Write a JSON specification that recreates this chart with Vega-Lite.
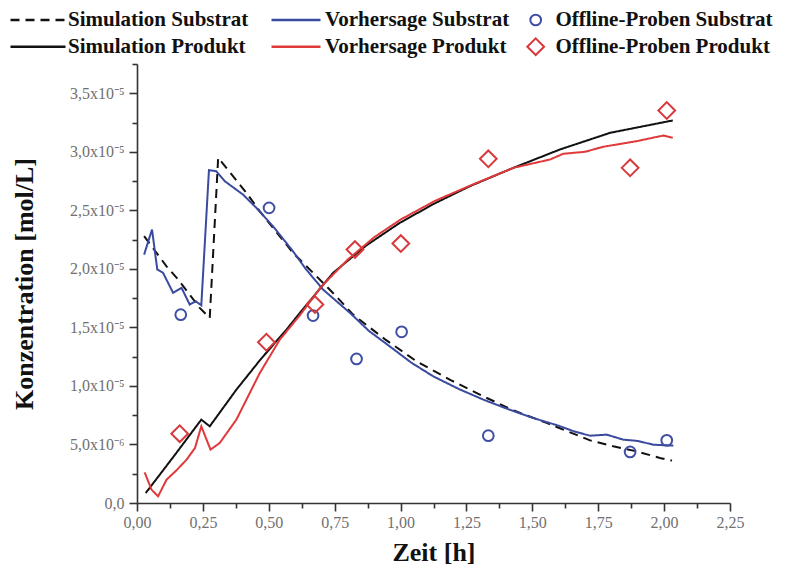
{
  "$schema": "https://vega.github.io/schema/vega-lite/v6.json",
  "width": 593,
  "height": 439,
  "autosize": {"type": "none"},
  "padding": {"left": 137, "top": 64, "right": 63, "bottom": 76},
  "background": "white",
  "config": {
    "view": {"stroke": null},
    "font": "Liberation Serif",
    "legend": {
      "labelFont": "Liberation Serif",
      "labelFontSize": 21,
      "labelFontWeight": "bold",
      "labelColor": "#111111",
      "labelLimit": 400,
      "padding": 0,
      "titlePadding": 0
    }
  },
  "data": {
    "values": [
      {"series": "Simulation Substrat", "t": 0.027, "c": 2.279e-5},
      {"series": "Simulation Substrat", "t": 0.112, "c": 2.022e-5},
      {"series": "Simulation Substrat", "t": 0.156, "c": 1.909e-5},
      {"series": "Simulation Substrat", "t": 0.200, "c": 1.780e-5},
      {"series": "Simulation Substrat", "t": 0.238, "c": 1.667e-5},
      {"series": "Simulation Substrat", "t": 0.276, "c": 1.581e-5},
      {"series": "Simulation Substrat", "t": 0.308, "c": 2.949e-5},
      {"series": "Simulation Substrat", "t": 0.339, "c": 2.863e-5},
      {"series": "Simulation Substrat", "t": 0.415, "c": 2.650e-5},
      {"series": "Simulation Substrat", "t": 0.466, "c": 2.492e-5},
      {"series": "Simulation Substrat", "t": 0.592, "c": 2.137e-5},
      {"series": "Simulation Substrat", "t": 0.668, "c": 1.966e-5},
      {"series": "Simulation Substrat", "t": 0.750, "c": 1.780e-5},
      {"series": "Simulation Substrat", "t": 0.820, "c": 1.609e-5},
      {"series": "Simulation Substrat", "t": 0.940, "c": 1.400e-5},
      {"series": "Simulation Substrat", "t": 1.061, "c": 1.210e-5},
      {"series": "Simulation Substrat", "t": 1.190, "c": 1.050e-5},
      {"series": "Simulation Substrat", "t": 1.314, "c": 0.911e-5},
      {"series": "Simulation Substrat", "t": 1.430, "c": 0.790e-5},
      {"series": "Simulation Substrat", "t": 1.554, "c": 0.684e-5},
      {"series": "Simulation Substrat", "t": 1.719, "c": 0.535e-5},
      {"series": "Simulation Substrat", "t": 1.807, "c": 0.484e-5},
      {"series": "Simulation Substrat", "t": 1.896, "c": 0.441e-5},
      {"series": "Simulation Substrat", "t": 1.984, "c": 0.385e-5},
      {"series": "Simulation Substrat", "t": 2.030, "c": 0.362e-5},

      {"series": "Vorhersage Substrat", "t": 0.027, "c": 2.122e-5},
      {"series": "Vorhersage Substrat", "t": 0.057, "c": 2.336e-5},
      {"series": "Vorhersage Substrat", "t": 0.077, "c": 1.994e-5},
      {"series": "Vorhersage Substrat", "t": 0.099, "c": 1.966e-5},
      {"series": "Vorhersage Substrat", "t": 0.137, "c": 1.795e-5},
      {"series": "Vorhersage Substrat", "t": 0.169, "c": 1.838e-5},
      {"series": "Vorhersage Substrat", "t": 0.200, "c": 1.695e-5},
      {"series": "Vorhersage Substrat", "t": 0.223, "c": 1.723e-5},
      {"series": "Vorhersage Substrat", "t": 0.244, "c": 1.689e-5},
      {"series": "Vorhersage Substrat", "t": 0.273, "c": 2.843e-5},
      {"series": "Vorhersage Substrat", "t": 0.301, "c": 2.834e-5},
      {"series": "Vorhersage Substrat", "t": 0.333, "c": 2.749e-5},
      {"series": "Vorhersage Substrat", "t": 0.402, "c": 2.635e-5},
      {"series": "Vorhersage Substrat", "t": 0.453, "c": 2.521e-5},
      {"series": "Vorhersage Substrat", "t": 0.516, "c": 2.364e-5},
      {"series": "Vorhersage Substrat", "t": 0.592, "c": 2.150e-5},
      {"series": "Vorhersage Substrat", "t": 0.640, "c": 2.000e-5},
      {"series": "Vorhersage Substrat", "t": 0.706, "c": 1.823e-5},
      {"series": "Vorhersage Substrat", "t": 0.808, "c": 1.624e-5},
      {"series": "Vorhersage Substrat", "t": 0.880, "c": 1.470e-5},
      {"series": "Vorhersage Substrat", "t": 0.959, "c": 1.338e-5},
      {"series": "Vorhersage Substrat", "t": 1.040, "c": 1.200e-5},
      {"series": "Vorhersage Substrat", "t": 1.124, "c": 1.082e-5},
      {"series": "Vorhersage Substrat", "t": 1.220, "c": 0.975e-5},
      {"series": "Vorhersage Substrat", "t": 1.314, "c": 0.883e-5},
      {"series": "Vorhersage Substrat", "t": 1.410, "c": 0.800e-5},
      {"series": "Vorhersage Substrat", "t": 1.503, "c": 0.726e-5},
      {"series": "Vorhersage Substrat", "t": 1.600, "c": 0.660e-5},
      {"series": "Vorhersage Substrat", "t": 1.660, "c": 0.610e-5},
      {"series": "Vorhersage Substrat", "t": 1.719, "c": 0.575e-5},
      {"series": "Vorhersage Substrat", "t": 1.782, "c": 0.584e-5},
      {"series": "Vorhersage Substrat", "t": 1.845, "c": 0.541e-5},
      {"series": "Vorhersage Substrat", "t": 1.900, "c": 0.530e-5},
      {"series": "Vorhersage Substrat", "t": 1.959, "c": 0.498e-5},
      {"series": "Vorhersage Substrat", "t": 2.035, "c": 0.490e-5},

      {"series": "Simulation Produkt", "t": 0.033, "c": 0.085e-5},
      {"series": "Simulation Produkt", "t": 0.140, "c": 0.400e-5},
      {"series": "Simulation Produkt", "t": 0.244, "c": 0.712e-5},
      {"series": "Simulation Produkt", "t": 0.276, "c": 0.655e-5},
      {"series": "Simulation Produkt", "t": 0.377, "c": 0.968e-5},
      {"series": "Simulation Produkt", "t": 0.470, "c": 1.230e-5},
      {"series": "Simulation Produkt", "t": 0.567, "c": 1.481e-5},
      {"series": "Simulation Produkt", "t": 0.618, "c": 1.624e-5},
      {"series": "Simulation Produkt", "t": 0.744, "c": 1.966e-5},
      {"series": "Simulation Produkt", "t": 0.870, "c": 2.200e-5},
      {"series": "Simulation Produkt", "t": 0.997, "c": 2.393e-5},
      {"series": "Simulation Produkt", "t": 1.130, "c": 2.560e-5},
      {"series": "Simulation Produkt", "t": 1.263, "c": 2.706e-5},
      {"series": "Simulation Produkt", "t": 1.428, "c": 2.863e-5},
      {"series": "Simulation Produkt", "t": 1.605, "c": 3.020e-5},
      {"series": "Simulation Produkt", "t": 1.795, "c": 3.162e-5},
      {"series": "Simulation Produkt", "t": 2.033, "c": 3.268e-5},

      {"series": "Vorhersage Produkt", "t": 0.029, "c": 0.262e-5},
      {"series": "Vorhersage Produkt", "t": 0.055, "c": 0.114e-5},
      {"series": "Vorhersage Produkt", "t": 0.080, "c": 0.057e-5},
      {"series": "Vorhersage Produkt", "t": 0.112, "c": 0.199e-5},
      {"series": "Vorhersage Produkt", "t": 0.150, "c": 0.280e-5},
      {"series": "Vorhersage Produkt", "t": 0.188, "c": 0.370e-5},
      {"series": "Vorhersage Produkt", "t": 0.220, "c": 0.470e-5},
      {"series": "Vorhersage Produkt", "t": 0.244, "c": 0.655e-5},
      {"series": "Vorhersage Produkt", "t": 0.279, "c": 0.456e-5},
      {"series": "Vorhersage Produkt", "t": 0.314, "c": 0.513e-5},
      {"series": "Vorhersage Produkt", "t": 0.377, "c": 0.712e-5},
      {"series": "Vorhersage Produkt", "t": 0.466, "c": 1.111e-5},
      {"series": "Vorhersage Produkt", "t": 0.542, "c": 1.396e-5},
      {"series": "Vorhersage Produkt", "t": 0.620, "c": 1.610e-5},
      {"series": "Vorhersage Produkt", "t": 0.700, "c": 1.850e-5},
      {"series": "Vorhersage Produkt", "t": 0.800, "c": 2.080e-5},
      {"series": "Vorhersage Produkt", "t": 0.900, "c": 2.270e-5},
      {"series": "Vorhersage Produkt", "t": 1.000, "c": 2.421e-5},
      {"series": "Vorhersage Produkt", "t": 1.130, "c": 2.580e-5},
      {"series": "Vorhersage Produkt", "t": 1.263, "c": 2.710e-5},
      {"series": "Vorhersage Produkt", "t": 1.428, "c": 2.863e-5},
      {"series": "Vorhersage Produkt", "t": 1.500, "c": 2.900e-5},
      {"series": "Vorhersage Produkt", "t": 1.567, "c": 2.934e-5},
      {"series": "Vorhersage Produkt", "t": 1.617, "c": 2.983e-5},
      {"series": "Vorhersage Produkt", "t": 1.700, "c": 3.000e-5},
      {"series": "Vorhersage Produkt", "t": 1.769, "c": 3.043e-5},
      {"series": "Vorhersage Produkt", "t": 1.896, "c": 3.091e-5},
      {"series": "Vorhersage Produkt", "t": 1.997, "c": 3.139e-5},
      {"series": "Vorhersage Produkt", "t": 2.033, "c": 3.120e-5},

      {"series": "Offline-Proben Substrat", "t": 0.166, "c": 1.609e-5},
      {"series": "Offline-Proben Substrat", "t": 0.501, "c": 2.521e-5},
      {"series": "Offline-Proben Substrat", "t": 0.668, "c": 1.601e-5},
      {"series": "Offline-Proben Substrat", "t": 0.833, "c": 1.231e-5},
      {"series": "Offline-Proben Substrat", "t": 1.004, "c": 1.462e-5},
      {"series": "Offline-Proben Substrat", "t": 1.333, "c": 0.575e-5},
      {"series": "Offline-Proben Substrat", "t": 1.871, "c": 0.436e-5},
      {"series": "Offline-Proben Substrat", "t": 2.010, "c": 0.535e-5},

      {"series": "Offline-Proben Produkt", "t": 0.162, "c": 0.592e-5},
      {"series": "Offline-Proben Produkt", "t": 0.491, "c": 1.373e-5},
      {"series": "Offline-Proben Produkt", "t": 0.675, "c": 1.695e-5},
      {"series": "Offline-Proben Produkt", "t": 0.827, "c": 2.165e-5},
      {"series": "Offline-Proben Produkt", "t": 1.001, "c": 2.216e-5},
      {"series": "Offline-Proben Produkt", "t": 1.333, "c": 2.940e-5},
      {"series": "Offline-Proben Produkt", "t": 1.871, "c": 2.863e-5},
      {"series": "Offline-Proben Produkt", "t": 2.010, "c": 3.353e-5}
    ]
  },
  "encoding": {
    "x": {
      "field": "t",
      "type": "quantitative",
      "scale": {"domain": [0, 2.25], "nice": false, "zero": false},
      "axis": {
        "title": "Zeit [h]",
        "values": [0, 0.125, 0.25, 0.375, 0.5, 0.625, 0.75, 0.875, 1, 1.125, 1.25, 1.375, 1.5, 1.625, 1.75, 1.875, 2, 2.125, 2.25],
        "labelExpr": "abs(datum.value*4 - round(datum.value*4)) < 1e-6 ? replace(format(datum.value, '.2f'), '.', ',') : ''",
        "tickSize": {"condition": {"test": "abs(datum.value*4 - round(datum.value*4)) < 1e-6", "value": 8}, "value": 5},
        "grid": false,
        "domainColor": "#333333",
        "domainWidth": 1.6,
        "tickColor": "#333333",
        "tickWidth": 1.6,
        "labelColor": "#707070",
        "labelFont": "Liberation Serif",
        "labelFontSize": 16,
        "labelPadding": 3,
        "labelOverlap": false,
        "labelFlush": false,
        "titleFont": "Liberation Serif",
        "titleFontSize": 26,
        "titleFontWeight": "bold",
        "titleColor": "#111111",
        "titlePadding": 9
      }
    },
    "y": {
      "field": "c",
      "type": "quantitative",
      "scale": {"domain": [0, 3.75e-5], "nice": false, "zero": false},
      "axis": {
        "title": "Konzentration [mol/L]",
        "values": [0, 2.5e-6, 5e-6, 7.5e-6, 1e-5, 1.25e-5, 1.5e-5, 1.75e-5, 2e-5, 2.25e-5, 2.5e-5, 2.75e-5, 3e-5, 3.25e-5, 3.5e-5, 3.75e-5],
        "labelExpr": "abs(datum.value*2e5 - round(datum.value*2e5)) > 1e-6 ? '' : datum.value == 0 ? '0,0' : datum.value < 9e-6 ? replace(format(datum.value*1e6, '.1f'), '.', ',') + 'x10⁻⁶' : replace(format(datum.value*1e5, '.1f'), '.', ',') + 'x10⁻⁵'",
        "tickSize": {"condition": {"test": "abs(datum.value*2e5 - round(datum.value*2e5)) < 1e-6", "value": 8}, "value": 5},
        "grid": false,
        "domainColor": "#333333",
        "domainWidth": 1.6,
        "tickColor": "#333333",
        "tickWidth": 1.6,
        "labelColor": "#707070",
        "labelFont": "Liberation Serif",
        "labelFontSize": 16,
        "labelPadding": 5,
        "labelOverlap": false,
        "labelFlush": false,
        "titleFont": "Liberation Serif",
        "titleFontSize": 26,
        "titleFontWeight": "bold",
        "titleColor": "#111111",
        "titlePadding": 32
      }
    },
    "color": {
      "field": "series",
      "type": "nominal",
      "scale": {
        "domain": ["Simulation Substrat", "Vorhersage Substrat", "Offline-Proben Substrat", "Simulation Produkt", "Vorhersage Produkt", "Offline-Proben Produkt"],
        "range": ["#111111", "#3a4a9e", "#3f4fa3", "#111111", "#e0393b", "#d8393c"]
      },
      "legend": {
        "title": null,
        "orient": "none",
        "legendX": 133,
        "legendY": -55,
        "direction": "vertical",
        "columns": 1,
        "values": ["Vorhersage Substrat", "Vorhersage Produkt"],
        "symbolType": "stroke",
        "symbolSize": 2401,
        "symbolStrokeWidth": 2.5,
        "labelOffset": 3,
        "clipHeight": 22,
        "rowPadding": 4.7
      }
    }
  },
  "layer": [
    {
      "transform": [{"filter": "indexof(['Simulation Substrat','Vorhersage Substrat','Simulation Produkt','Vorhersage Produkt'], datum.series) >= 0"}],
      "mark": {"type": "line", "strokeWidth": 2},
      "encoding": {
        "strokeDash": {
          "field": "series",
          "type": "nominal",
          "scale": {
            "domain": ["Simulation Substrat", "Simulation Produkt", "Vorhersage Substrat", "Vorhersage Produkt"],
            "range": [[9, 6], [1, 0], [1, 0], [1, 0]]
          },
          "legend": {
            "title": null,
            "orient": "none",
            "legendX": -128,
            "legendY": -55,
            "direction": "vertical",
            "columns": 1,
            "values": ["Simulation Substrat", "Simulation Produkt"],
            "symbolType": "stroke",
            "symbolSize": 3025,
            "symbolStrokeWidth": 2.5,
            "symbolStrokeColor": "#111111",
            "labelOffset": 1,
            "clipHeight": 22,
            "rowPadding": 4.7
          }
        }
      }
    },
    {
      "transform": [{"filter": "indexof(['Offline-Proben Substrat','Offline-Proben Produkt'], datum.series) >= 0"}],
      "mark": {"type": "point", "filled": false, "strokeWidth": 2, "opacity": 1},
      "encoding": {
        "shape": {
          "field": "series",
          "type": "nominal",
          "scale": {
            "domain": ["Offline-Proben Substrat", "Offline-Proben Produkt"],
            "range": ["circle", "diamond"]
          },
          "legend": {
            "title": null,
            "orient": "none",
            "legendX": 388.2,
            "legendY": -55,
            "direction": "vertical",
            "columns": 1,
            "symbolStrokeWidth": 2,
            "labelOffset": 9.2,
            "clipHeight": 22,
            "rowPadding": 4.7
          }
        },
        "stroke": {
          "field": "series",
          "type": "nominal",
          "scale": {
            "domain": ["Offline-Proben Substrat", "Offline-Proben Produkt"],
            "range": ["#3f4fa3", "#d8393c"]
          },
          "legend": {
            "title": null,
            "orient": "none",
            "legendX": 388.2,
            "legendY": -55,
            "direction": "vertical",
            "columns": 1,
            "symbolStrokeWidth": 2,
            "labelOffset": 9.2,
            "clipHeight": 22,
            "rowPadding": 4.7
          }
        },
        "size": {
          "field": "series",
          "type": "nominal",
          "scale": {
            "domain": ["Offline-Proben Substrat", "Offline-Proben Produkt"],
            "range": [115, 280]
          },
          "legend": {
            "title": null,
            "orient": "none",
            "legendX": 388.2,
            "legendY": -55,
            "direction": "vertical",
            "columns": 1,
            "symbolStrokeWidth": 2,
            "labelOffset": 9.2,
            "clipHeight": 22,
            "rowPadding": 4.7
          }
        }
      }
    }
  ]
}
